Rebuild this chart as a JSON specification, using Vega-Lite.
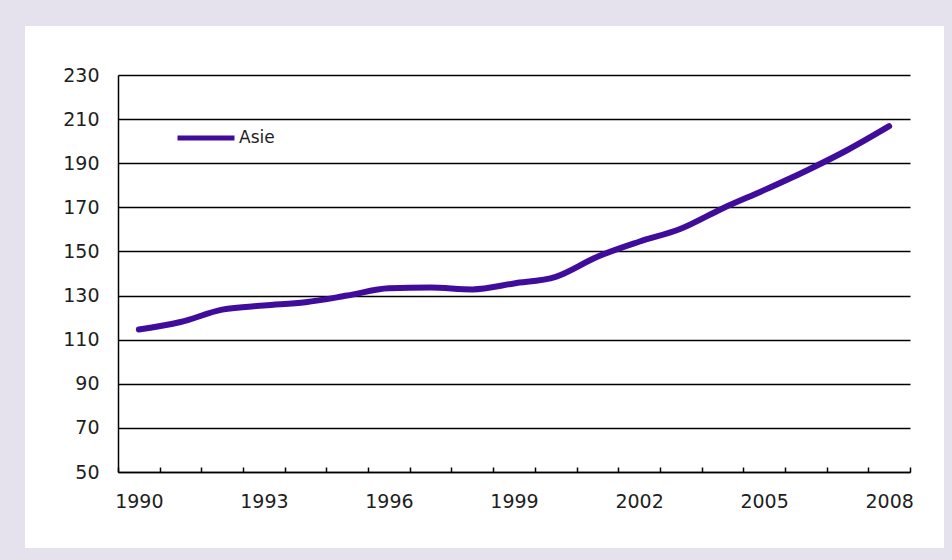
{
  "$schema": "https://vega.github.io/schema/vega-lite/v6.json",
  "width": 919,
  "height": 522,
  "autosize": {"type": "none"},
  "padding": {"left": 25, "top": 26, "right": 8, "bottom": 12},
  "background": "#e5e2ed",
  "config": {
    "view": {"fill": "white", "stroke": null},
    "font": "DejaVu Sans"
  },
  "data": {
    "values": [
      {"year": 1990, "value": 114.6, "serie": "Asie"},
      {"year": 1991, "value": 118.0, "serie": "Asie"},
      {"year": 1992, "value": 123.6, "serie": "Asie"},
      {"year": 1993, "value": 125.5, "serie": "Asie"},
      {"year": 1994, "value": 127.0, "serie": "Asie"},
      {"year": 1995, "value": 130.0, "serie": "Asie"},
      {"year": 1996, "value": 133.3, "serie": "Asie"},
      {"year": 1997, "value": 133.6, "serie": "Asie"},
      {"year": 1998, "value": 132.8, "serie": "Asie"},
      {"year": 1999, "value": 135.5, "serie": "Asie"},
      {"year": 2000, "value": 138.5, "serie": "Asie"},
      {"year": 2001, "value": 147.6, "serie": "Asie"},
      {"year": 2002, "value": 154.4, "serie": "Asie"},
      {"year": 2003, "value": 160.3, "serie": "Asie"},
      {"year": 2004, "value": 169.5, "serie": "Asie"},
      {"year": 2005, "value": 177.8, "serie": "Asie"},
      {"year": 2006, "value": 186.5, "serie": "Asie"},
      {"year": 2007, "value": 196.0, "serie": "Asie"},
      {"year": 2008, "value": 206.8, "serie": "Asie"}
    ]
  },
  "mark": {"type": "line", "interpolate": "monotone", "strokeWidth": 6, "strokeCap": "round"},
  "encoding": {
    "x": {
      "field": "year",
      "type": "ordinal",
      "bandPosition": 0.5,
      "scale": {"type": "band", "paddingInner": 0, "paddingOuter": 0, "range": [93, 885]},
      "axis": {
        "title": null,
        "offset": -76,
        "domainColor": "#000000",
        "domainWidth": 1.5,
        "ticks": true,
        "tickBand": "extent",
        "tickSize": -5,
        "tickColor": "#000000",
        "tickWidth": 1.5,
        "grid": false,
        "labelAngle": 0,
        "labelOverlap": false,
        "labelExpr": "(datum.value - 1990) % 3 == 0 ? datum.label : ''",
        "labelFontSize": 19,
        "labelColor": "#1e1e1e",
        "labelBaseline": "middle",
        "labelPadding": 34
      }
    },
    "y": {
      "field": "value",
      "type": "quantitative",
      "scale": {"domain": [50, 230], "range": [446, 49], "nice": false, "zero": false},
      "axis": {
        "title": null,
        "offset": -93,
        "values": [50, 70, 90, 110, 130, 150, 170, 190, 210, 230],
        "domainColor": "#000000",
        "domainWidth": 1.5,
        "ticks": false,
        "grid": true,
        "gridColor": "#000000",
        "gridWidth": 1.5,
        "labelFontSize": 19,
        "labelColor": "#1e1e1e",
        "labelPadding": 19
      }
    },
    "color": {
      "field": "serie",
      "type": "nominal",
      "scale": {"range": ["#400c9c"]},
      "legend": {
        "title": null,
        "orient": "none",
        "legendX": 150,
        "legendY": 81,
        "padding": 0,
        "symbolType": "stroke",
        "symbolSize": 3249,
        "symbolStrokeWidth": 5,
        "labelOffset": 2,
        "labelFontSize": 17,
        "labelColor": "#1e1e1e"
      }
    }
  }
}
